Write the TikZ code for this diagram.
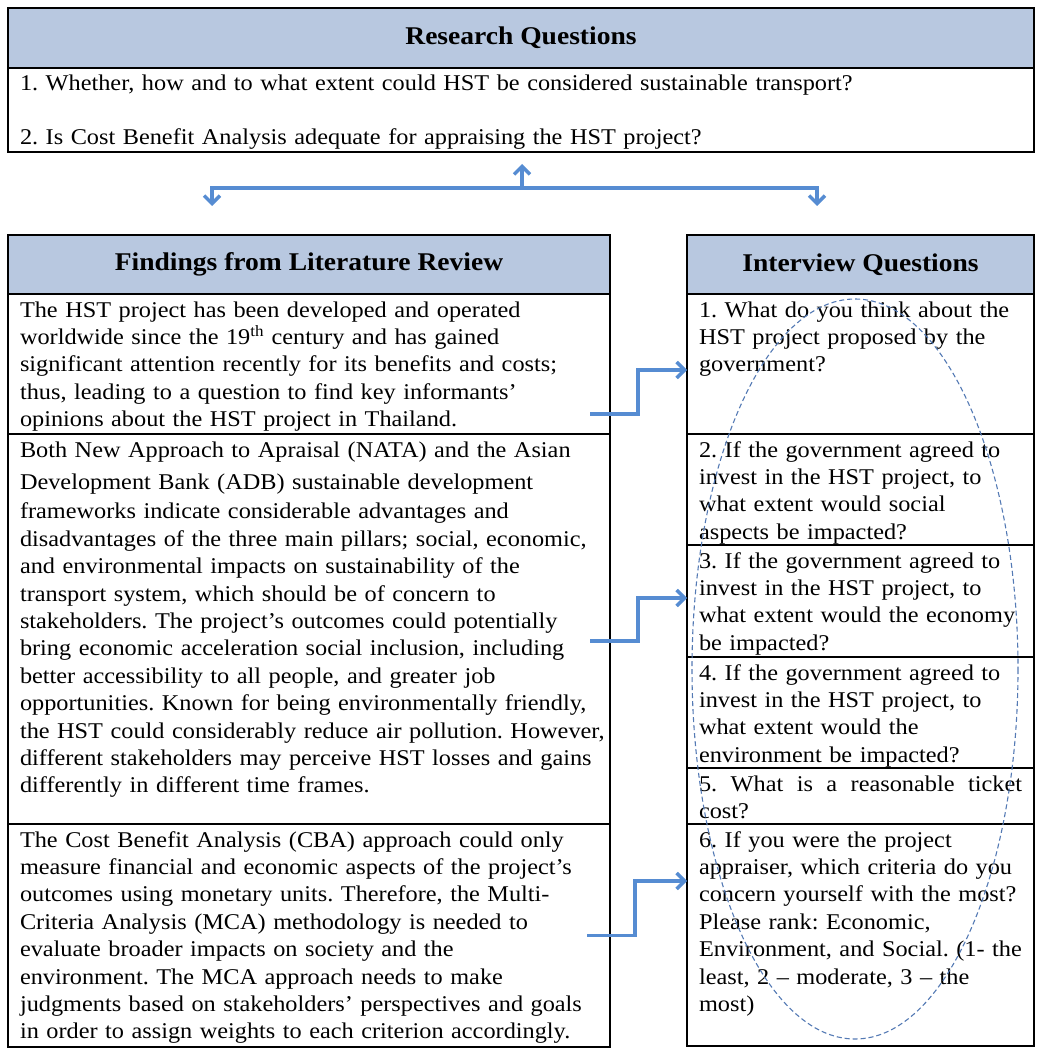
\documentclass[tikz,border=0pt]{standalone}
\usepackage{fontspec}
\setmainfont[FakeStretch=1.08]{Liberation Serif}
\usepackage{tikz}
\usetikzlibrary{arrows.meta,positioning}
\definecolor{hdrblue}{RGB}{184,200,224}
\definecolor{arrowblue}{RGB}{86,140,210}
\definecolor{ringblue}{RGB}{84,122,180}
\tikzset{
    hdr/.style={draw, line width=1.2pt, fill=hdrblue, inner sep=0pt, outer sep=0pt, font=\bfseries\fontsize{25.5}{30}\selectfont},
    cell/.style={draw, line width=1.2pt, inner xsep=12pt, inner ysep=0pt, outer sep=0pt, align=left, text height=23pt,
        font=\fontsize{22.5}{27.4}\selectfont,
        execute at begin node={\frenchspacing\rightskip=0pt plus 1fil minus 30pt\linepenalty=1000\hyphenpenalty=10000}},
    flow/.style={-{Straight Barb[length=8pt, width=16pt]}, line width=3.5pt, arrowblue},
    ring/.style={dash pattern=on 5pt off 3pt, line width=1.1pt, ringblue}
}
\begin{document}
\begin{tikzpicture}[x=1pt, y=-1pt]
    \useasboundingbox (0,0) rectangle (1045,1056);
    \node[hdr, minimum width=1026pt, minimum height=60pt, anchor=north west] (rqHead) at (8,8) {Research Questions};
    \node[cell, text width=1002pt, text depth=61pt, below=0pt of rqHead] (rqBody) {1. Whether, how and to what extent could HST be considered sustainable transport?\\[26pt]
        2. Is Cost Benefit Analysis adequate for appraising the HST project?};

    \node[hdr, minimum width=602pt, minimum height=59pt, anchor=north west] (litHead) at (8,235) {Findings from Literature Review};
    \node[hdr, minimum width=347pt, minimum height=59pt, right=77pt of litHead] (intHead) {Interview Questions};

    \node[cell, text width=578pt, text depth=117pt, below=0pt of litHead] (f1) {The HST project has been developed and operated\\
        worldwide since the 19\textsuperscript{th} century and has gained\\
        significant attention recently for its benefits and costs;\\
        thus, leading to a question to find key informants’\\
        opinions about the HST project in Thailand.};
    \node[cell, text width=578pt, text depth=367pt, below=0pt of f1] (f2) {Both New Approach to Apraisal (NATA) and the Asian\\[5pt]
        Development Bank (ADB) sustainable development\\[2pt]
        frameworks indicate considerable advantages and\\
        disadvantages of the three main pillars; social, economic,\\
        and environmental impacts on sustainability of the\\
        transport system, which should be of concern to\\
        stakeholders. The project’s outcomes could potentially\\
        bring economic acceleration social inclusion, including\\
        better accessibility to all people, and greater job\\
        opportunities. Known for being environmentally friendly,\\
        the HST could considerably reduce air pollution. However,\\
        different stakeholders may perceive HST losses and gains\\
        differently in different time frames.};
    \node[cell, text width=578pt, text depth=200pt, below=0pt of f2] (f3) {The Cost Benefit Analysis (CBA) approach could only\\
        measure financial and economic aspects of the project’s\\
        outcomes using monetary units. Therefore, the Multi-\\
        Criteria Analysis (MCA) methodology is needed to\\
        evaluate broader impacts on society and the\\
        environment. The MCA approach needs to make\\
        judgments based on stakeholders’ perspectives and goals\\
        in order to assign weights to each criterion accordingly.};

    \node[cell, text width=323pt, text depth=117pt, below=0pt of intHead] (q1) {1. What do you think about the\\
        HST project proposed by the\\
        government?};
    \node[cell, text width=323pt, text depth=88pt, below=0pt of q1] (q2) {2. If the government agreed to\\
        invest in the HST project, to\\
        what extent would social\\
        aspects be impacted?};
    \node[cell, text width=323pt, text depth=89pt, below=0pt of q2] (q3) {3. If the government agreed to\\
        invest in the HST project, to\\
        what extent would the economy\\
        be impacted?};
    \node[cell, text width=323pt, text depth=88pt, below=0pt of q3] (q4) {4. If the government agreed to\\
        invest in the HST project, to\\
        what extent would the\\
        environment be impacted?};
    \node[cell, text width=323pt, text depth=33pt, below=0pt of q4] (q5) {\hbox to 323pt{5.\hfil What\hfil is\hfil a\hfil reasonable\hfil ticket}\\
        cost?};
    \node[cell, text width=323pt, text depth=199pt, below=0pt of q5] (q6) {6. If you were the project\\
        appraiser, which criteria do you\\
        concern yourself with the most?\\
        Please rank: Economic,\\
        Environment, and Social. (1- the\\
        least, 2 – moderate, 3 – the\\
        most)};

    \coordinate (hub) at (522,188);
    \coordinate (leftTip) at (212,206);
    \coordinate (rightTip) at (817,206);
    \draw[flow] (hub) -- ([yshift=-12pt]rqBody.south -| hub);
    \draw[flow] (hub) -| (leftTip);
    \draw[flow] (hub) -| (rightTip);

    \draw[flow] ([xshift=-20pt, yshift=-50pt]f1.east) -- ++(48,0) |- ([yshift=-6pt]q1.west);
    \draw[flow] ([xshift=-20pt, yshift=-12pt]f2.east) -- ++(48,0) |- ([yshift=3pt]q3.west);
    \draw[flow] ([xshift=-23pt]f3.east) -- ++(48,0) |- ([yshift=54pt]q6.west);

    \draw[ring] (855,669) ellipse [x radius=163, y radius=370];
\end{tikzpicture}
\end{document}
